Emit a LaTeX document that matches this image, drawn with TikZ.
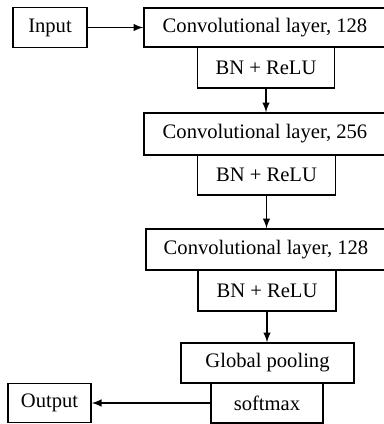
\documentclass[tikz,border=0pt]{standalone}
\usepackage{fontspec}
\setmainfont{Liberation Serif}
\begin{document}
\begin{tikzpicture}[x=0.5pt,y=-0.5pt,
        box/.style={draw, line width=0.7pt, inner sep=0pt, minimum height=20pt, font=\fontsize{10.3}{12}\selectfont},
        >=latex]
        \useasboundingbox (0,0) rectangle (384,424);
        \node[box,minimum width=37pt] (in) at (50,27.5) {Input};
        \node[box,minimum width=121pt,minimum height=19.5pt] (c1) at (265,27.5) {Convolutional layer, 128};
        \node[box,minimum width=68.5pt,minimum height=20.5pt] (b1) at (266,67.5) {BN + ReLU};
        \node[box,minimum width=121pt,minimum height=21pt] (c2) at (265,134) {Convolutional layer, 256};
        \node[box,minimum width=69pt] (b2) at (266.5,175) {BN + ReLU};
        \node[box,minimum width=120pt,minimum height=20.5pt] (c3) at (266,249.5) {Convolutional layer, 128};
        \node[box,minimum width=69pt,minimum height=20.5pt] (b3) at (267,290.5) {BN + ReLU};
        \node[box,minimum width=86.5pt] (gp) at (267.5,363) {Global pooling};
        \node[box,minimum width=56pt] (sm) at (267,403) {softmax};
        \node[box,minimum width=41.5pt,minimum height=19.5pt] (out) at (49.5,403) {Output};
        \draw[->, line width=0.7pt] (in) -- (c1);
        \draw[->, line width=0.7pt] (b1.south) -- (b1.south |- c2.north);
        \draw[->, line width=0.7pt] (b2.south) -- (b2.south |- c3.north);
        \draw[->, line width=0.7pt] (b3.south) -- (b3.south |- gp.north);
        \draw[->, line width=0.7pt] (sm) -- (out);
    \end{tikzpicture}
\end{document}
